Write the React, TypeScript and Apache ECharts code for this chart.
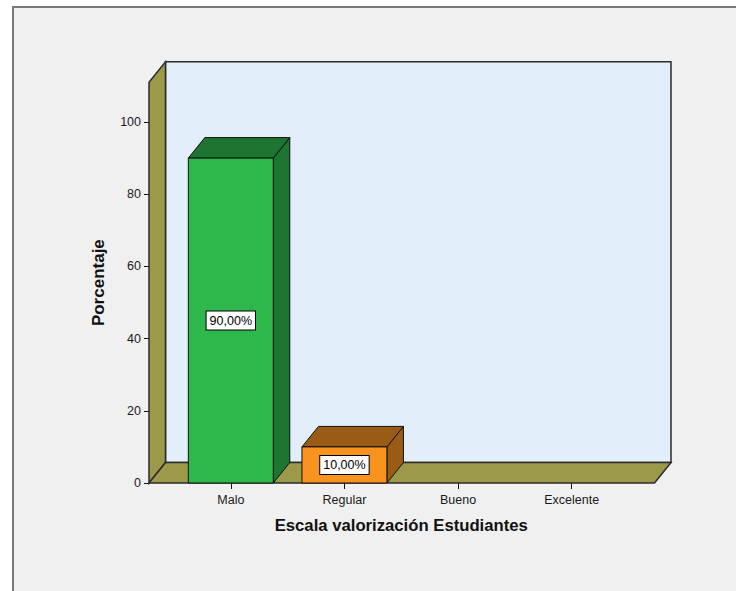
import React, { useEffect, useRef } from "react";
import * as echarts from "echarts";

const categories = ["Malo", "Regular", "Bueno", "Excelente"];
const percentages = [90, 10, 0, 0];
const frontColors = ["#2eb84b", "#f7931e", "#2eb84b", "#f7931e"];
const darkColors = ["#1e7531", "#9a5b16", "#1e7531", "#9a5b16"];
const yMax = 100;
const yInterval = 20;
const wallTopValue = 111;
const xTitle = "Escala valorización Estudiantes";
const yTitle = "Porcentaje";

const DX = 16.5;
const DY = -20.5;
const FONT = "'Liberation Sans', Arial, Helvetica, sans-serif";

export default function App() {
  const ref = useRef<HTMLDivElement>(null);

  useEffect(() => {
    if (!ref.current) return;
    const chart = echarts.init(ref.current, null, { renderer: "svg" });

    const wallsRender = (params: any, api: any) => {
      const cs = params.coordSys;
      const y0 = api.coord([0, 0])[1];
      const yTop = api.coord([0, wallTopValue])[1];
      const xL = cs.x - 25;
      const xR = cs.x + cs.width + 26;
      const stroke = { stroke: "#2b2b2b", lineWidth: 1.5 };
      return {
        type: "group",
        children: [
          {
            type: "rect",
            shape: { x: xL + DX, y: yTop + DY, width: xR - xL, height: y0 - yTop },
            style: { fill: "#e2eefa", ...stroke },
          },
          {
            type: "polygon",
            shape: {
              points: [
                [xL, y0],
                [xL, yTop],
                [xL + DX, yTop + DY],
                [xL + DX, y0 + DY],
              ],
            },
            style: { fill: "#9c9a4a", ...stroke },
          },
          {
            type: "polygon",
            shape: {
              points: [
                [xL, y0],
                [xR, y0],
                [xR + DX, y0 + DY],
                [xL + DX, y0 + DY],
              ],
            },
            style: { fill: "#9c9a4a", ...stroke },
          },
          {
            type: "text",
            x: xL - 51,
            y: (y0 + yTop) / 2,
            rotation: Math.PI / 2,
            style: {
              text: yTitle,
              x: 0,
              y: 0,
              align: "center",
              verticalAlign: "middle",
              fill: "#111",
              font: `bold 17px ${FONT}`,
            },
          },
        ],
      };
    };

    const barsRender = (params: any, api: any) => {
      const idx = api.value(0);
      const v = api.value(1);
      if (!v) return null;
      const top = api.coord([idx, v]);
      const base = api.coord([idx, 0]);
      const band = api.size([1, 0])[0];
      const hw = band * 0.374;
      const x1 = top[0] - hw;
      const x2 = top[0] + hw;
      const yT = top[1];
      const yB = base[1];
      const st = { stroke: "#111", lineWidth: 1 };
      const label = v.toFixed(2).replace(".", ",") + "%";
      return {
        type: "group",
        children: [
          {
            type: "polygon",
            shape: {
              points: [
                [x2, yB],
                [x2, yT],
                [x2 + DX, yT + DY],
                [x2 + DX, yB + DY],
              ],
            },
            style: { fill: darkColors[idx], ...st },
          },
          {
            type: "polygon",
            shape: {
              points: [
                [x1, yT],
                [x2, yT],
                [x2 + DX, yT + DY],
                [x1 + DX, yT + DY],
              ],
            },
            style: { fill: darkColors[idx], ...st },
          },
          {
            type: "rect",
            shape: { x: x1, y: yT, width: x2 - x1, height: yB - yT },
            style: { fill: frontColors[idx], ...st },
          },
          {
            type: "text",
            style: {
              text: label,
              x: top[0],
              y: (yT + yB) / 2,
              align: "center",
              verticalAlign: "middle",
              fill: "#000",
              font: `12.5px ${FONT}`,
              backgroundColor: "#ffffff",
              borderColor: "#000",
              borderWidth: 1,
              padding: [3, 3, 2, 3],
            },
          },
        ],
      };
    };

    chart.setOption({
      animation: false,
      backgroundColor: "#ffffff",
      graphic: [
        {
          type: "rect",
          z: -10,
          shape: { x: 13, y: 7, width: 800, height: 700 },
          style: { fill: "#f0f0f0", stroke: "#7a7a7a", lineWidth: 2 },
        },
      ],
      grid: { left: 174, right: 107.5, top: 122, bottom: 108 },
      xAxis: {
        type: "category",
        data: categories,
        boundaryGap: true,
        axisLine: { show: false },
        axisTick: { show: true, alignWithLabel: true, length: 6, lineStyle: { color: "#111" } },
        axisLabel: { color: "#1a1a1a", fontSize: 12.5, fontFamily: FONT, margin: 10 },
        splitLine: { show: false },
        name: xTitle,
        nameLocation: "middle",
        nameGap: 34,
        nameTextStyle: { fontSize: 16.7, fontWeight: "bold", color: "#111", fontFamily: FONT },
      },
      yAxis: {
        type: "value",
        min: 0,
        max: yMax,
        interval: yInterval,
        offset: 25,
        axisLine: { show: false },
        axisTick: { show: true, length: 5, lineStyle: { color: "#111" } },
        axisLabel: { color: "#1a1a1a", fontSize: 12.5, fontFamily: FONT, margin: 8 },
        splitLine: { show: false },
      },
      series: [
        {
          type: "custom",
          clip: false,
          renderItem: wallsRender,
          data: [[0, 0]],
          silent: true,
          z: 1,
        },
        {
          type: "custom",
          clip: false,
          renderItem: barsRender,
          data: categories.map((_, i) => [i, percentages[i]]),
          z: 3,
        },
      ],
    });

    return () => chart.dispose();
  }, []);

  return (
    <div
      ref={ref}
      style={{ position: "absolute", left: 0, top: 0, width: 736, height: 591 }}
    />
  );
}
